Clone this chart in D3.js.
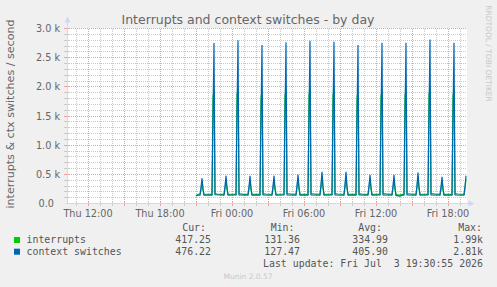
<!DOCTYPE html>
<html>
<head>
<meta charset="utf-8">
<script src="https://cdn.jsdelivr.net/npm/d3@7"></script>
<style>
body { margin: 0; background: #f0f0f0; }
svg { display: block; }
text { font-family: "DejaVu Sans", sans-serif; fill: #666; }
.mono { font-family: "DejaVu Sans Mono", monospace; fill: #555; white-space: pre; }
</style>
</head>
<body>
<div id="chart"></div>
<script>
// "D HH:MM" -> day of July 2026
const parseT = s => d3.timeParse('%Y-%m-%d %H:%M')('2026-07-0' + s)

// context switches per second
const contextSwitches = [
  ['2 21:00', 130], ['2 21:10', 146], ['2 21:20', 144], ['2 21:25', 270], ['2 21:30', 434], ['2 21:35', 250], ['2 21:40', 142],
  ['2 22:20', 145], ['2 22:25', 1500], ['2 22:30', 2750], ['2 22:35', 150],
  ['2 23:20', 143], ['2 23:25', 290], ['2 23:30', 477], ['2 23:35', 270], ['2 23:40', 144],
  ['3 00:20', 146], ['3 00:25', 1550], ['3 00:30', 2800], ['3 00:35', 148],
  ['3 01:20', 144], ['3 01:25', 285], ['3 01:30', 474], ['3 01:35', 260], ['3 01:40', 143],
  ['3 02:20', 145], ['3 02:25', 1480], ['3 02:30', 2716], ['3 02:35', 147],
  ['3 03:20', 144], ['3 03:25', 290], ['3 03:30', 477], ['3 03:35', 265], ['3 03:40', 145],
  ['3 04:20', 146], ['3 04:25', 1520], ['3 04:30', 2765], ['3 04:35', 146],
  ['3 05:20', 143], ['3 05:25', 300], ['3 05:30', 497], ['3 05:35', 270], ['3 05:40', 144],
  ['3 06:20', 145], ['3 06:25', 1540], ['3 06:30', 2790], ['3 06:35', 148],
  ['3 07:20', 144], ['3 07:25', 320], ['3 07:30', 543], ['3 07:35', 290], ['3 07:40', 145],
  ['3 08:20', 146], ['3 08:25', 1530], ['3 08:30', 2772], ['3 08:35', 147],
  ['3 09:20', 143], ['3 09:25', 320], ['3 09:30', 543], ['3 09:35', 285], ['3 09:40', 144],
  ['3 10:20', 145], ['3 10:25', 1480], ['3 10:30', 2716], ['3 10:35', 146],
  ['3 11:20', 144], ['3 11:25', 300], ['3 11:30', 491], ['3 11:35', 270], ['3 11:40', 145],
  ['3 12:20', 146], ['3 12:25', 1510], ['3 12:30', 2755], ['3 12:35', 147],
  ['3 13:20', 143], ['3 13:25', 295], ['3 13:30', 491], ['3 13:35', 265], ['3 13:40', 138], ['3 14:00', 128], ['3 14:10', 144],
  ['3 14:20', 145], ['3 14:25', 1510], ['3 14:30', 2755], ['3 14:35', 148],
  ['3 15:20', 144], ['3 15:25', 310], ['3 15:30', 531], ['3 15:35', 280], ['3 15:40', 145],
  ['3 16:20', 146], ['3 16:25', 1560], ['3 16:30', 2810], ['3 16:35', 147],
  ['3 17:20', 143], ['3 17:25', 280], ['3 17:30', 457], ['3 17:35', 255], ['3 17:40', 144],
  ['3 18:20', 145], ['3 18:25', 1510], ['3 18:30', 2755], ['3 18:35', 146],
  ['3 19:20', 144], ['3 19:25', 290], ['3 19:30', 476]
]

// interrupts per second
const interrupts = [
  ['2 21:00', 132], ['2 21:10', 156], ['2 21:20', 158], ['2 21:25', 240], ['2 21:30', 380], ['2 21:35', 230], ['2 21:40', 160],
  ['2 22:20', 158], ['2 22:25', 1820], ['2 22:30', 1945], ['2 22:35', 175], ['2 22:45', 160],
  ['2 23:20', 157], ['2 23:25', 260], ['2 23:30', 420], ['2 23:35', 240], ['2 23:40', 159],
  ['3 00:20', 158], ['3 00:25', 1860], ['3 00:30', 1990], ['3 00:35', 172], ['3 00:45', 166], ['3 00:55', 158],
  ['3 01:20', 156], ['3 01:25', 255], ['3 01:30', 415], ['3 01:35', 235], ['3 01:40', 158],
  ['3 02:20', 157], ['3 02:25', 1800], ['3 02:30', 1928], ['3 02:35', 168], ['3 02:50', 163],
  ['3 03:20', 158], ['3 03:25', 260], ['3 03:30', 420], ['3 03:35', 240], ['3 03:40', 160],
  ['3 04:20', 159], ['3 04:25', 1840], ['3 04:30', 1969], ['3 04:35', 170], ['3 04:50', 164],
  ['3 05:20', 157], ['3 05:25', 270], ['3 05:30', 440], ['3 05:35', 245], ['3 05:40', 158],
  ['3 06:20', 158], ['3 06:25', 1850], ['3 06:30', 1980], ['3 06:35', 171], ['3 06:50', 165],
  ['3 07:20', 157], ['3 07:25', 290], ['3 07:30', 480], ['3 07:35', 260], ['3 07:40', 159],
  ['3 08:20', 158], ['3 08:25', 1850], ['3 08:30', 1975], ['3 08:35', 170], ['3 08:50', 163],
  ['3 09:20', 156], ['3 09:25', 290], ['3 09:30', 480], ['3 09:35', 255], ['3 09:40', 158],
  ['3 10:20', 158], ['3 10:25', 1800], ['3 10:30', 1928], ['3 10:35', 168], ['3 10:50', 162],
  ['3 11:20', 157], ['3 11:25', 270], ['3 11:30', 435], ['3 11:35', 245], ['3 11:40', 158],
  ['3 12:20', 158], ['3 12:25', 1830], ['3 12:30', 1957], ['3 12:35', 172], ['3 12:50', 164],
  ['3 13:20', 156], ['3 13:25', 265], ['3 13:30', 435], ['3 13:35', 240], ['3 13:40', 152], ['3 14:00', 145], ['3 14:10', 158],
  ['3 14:20', 159], ['3 14:25', 1840], ['3 14:30', 1969], ['3 14:35', 170], ['3 14:50', 164],
  ['3 15:20', 157], ['3 15:25', 280], ['3 15:30', 470], ['3 15:35', 250], ['3 15:40', 159],
  ['3 16:20', 158], ['3 16:25', 1860], ['3 16:30', 1985], ['3 16:35', 172], ['3 16:50', 165],
  ['3 17:20', 157], ['3 17:25', 245], ['3 17:30', 400], ['3 17:35', 230], ['3 17:40', 158],
  ['3 18:20', 158], ['3 18:25', 1840], ['3 18:30', 1965], ['3 18:35', 170], ['3 18:50', 163],
  ['3 19:20', 157], ['3 19:25', 260], ['3 19:30', 417]
]

const yTicks = [0, 500, 1000, 1500, 2000, 2500, 3000]
const yTickLabels = ['0.0', '0.5 k', '1.0 k', '1.5 k', '2.0 k', '2.5 k', '3.0 k']
const xLabelTimes = ['2 12:00', '2 18:00', '3 00:00', '3 06:00', '3 12:00', '3 18:00']

const seriesNames = ['interrupts', 'context switches']
const seriesColors = ['#00cc00', '#0066b3']
const curValues = ['417.25', '476.22']
const minValues = ['131.36', '127.47']
const avgValues = ['334.99', '405.90']
const maxValues = ['1.99k', '2.81k']

const width = 497
const height = 287

const x = d3.scaleTime()
  .domain([parseT('2 10:15'), parseT('3 19:35')])
  .range([67, 467])

const y = d3.scaleLinear()
  .domain([0, 3000])
  .range([203.5, 28.5])

const svg = d3.select('#chart')
  .append('svg')
  .attr('width', width)
  .attr('height', height)

svg.append('rect')
  .attr('width', width)
  .attr('height', height)
  .style('fill', '#f0f0f0')

// canvas
svg.append('rect')
  .attr('x', x.range()[0])
  .attr('y', y.range()[1])
  .attr('width', x.range()[1] - x.range()[0])
  .attr('height', y.range()[0] - y.range()[1])
  .style('fill', '#ffffff')

const grid = svg.append('g').attr('shape-rendering', 'crispEdges')

const [t0, t1] = x.domain()
const hours = d3.timeHour.every(1).range(t0, t1)
const minorX = hours.filter(d => d.getHours() % 3 !== 0)
const majorX = hours.filter(d => d.getHours() % 3 === 0)
const px = d => Math.round(x(d)) + 0.5
const py = v => Math.floor(y(v)) + 0.5

const minorY = d3.range(100, 3001, 100).filter(v => v % 500 !== 0)
const majorY = yTicks.filter(v => v > 0)

grid.selectAll('.minor-x')
  .data(minorX)
  .enter()
  .append('line')
  .attr('x1', px).attr('x2', px)
  .attr('y1', y.range()[1]).attr('y2', y.range()[0])
  .style('stroke', '#c9c9c9')
  .style('stroke-dasharray', '1,1')

grid.selectAll('.minor-y')
  .data(minorY)
  .enter()
  .append('line')
  .attr('x1', x.range()[0]).attr('x2', x.range()[1])
  .attr('y1', py).attr('y2', py)
  .style('stroke', '#c9c9c9')
  .style('stroke-dasharray', '1,1')

grid.selectAll('.major-x')
  .data(majorX)
  .enter()
  .append('line')
  .attr('x1', px).attr('x2', px)
  .attr('y1', y.range()[1]).attr('y2', y.range()[0])
  .style('stroke', '#eaa0a0')
  .style('stroke-dasharray', '1,1')

grid.selectAll('.major-y')
  .data(majorY)
  .enter()
  .append('line')
  .attr('x1', x.range()[0]).attr('x2', x.range()[1])
  .attr('y1', py).attr('y2', py)
  .style('stroke', '#eaa0a0')
  .style('stroke-dasharray', '1,1')

// little ticks across the axes
grid.selectAll('.tick-x')
  .data(hours)
  .enter()
  .append('line')
  .attr('x1', px).attr('x2', px)
  .attr('y1', 201).attr('y2', 206)
  .style('stroke', d => d.getHours() % 3 === 0 ? '#eaa0a0' : '#c9c9c9')

grid.selectAll('.tick-y')
  .data(d3.range(100, 3001, 100))
  .enter()
  .append('line')
  .attr('x1', 64).attr('x2', 69)
  .attr('y1', py).attr('y2', py)
  .style('stroke', d => d % 500 === 0 ? '#eaa0a0' : '#c9c9c9')

// data lines
const line = d3.line()
  .x(d => x(parseT(d[0])))
  .y(d => y(d[1]))

svg.append('path')
  .datum(interrupts)
  .attr('d', line)
  .style('fill', 'none')
  .style('stroke', seriesColors[0])
  .style('stroke-width', 1.2)

svg.append('path')
  .datum(contextSwitches)
  .attr('d', line)
  .style('fill', 'none')
  .style('stroke', seriesColors[1])
  .style('stroke-width', 1.2)

// axes with arrows
const axisColor = '#cfd6f8'
svg.append('line')
  .attr('x1', 67.5).attr('x2', 67.5)
  .attr('y1', 204).attr('y2', 22)
  .style('stroke', axisColor)
  .attr('shape-rendering', 'crispEdges')
svg.append('path')
  .attr('d', 'M64.5,22.5 L67.5,16.5 L70.5,22.5 Z')
  .style('fill', axisColor)

svg.append('line')
  .attr('x1', 66).attr('x2', 470)
  .attr('y1', 203.5).attr('y2', 203.5)
  .style('stroke', axisColor)
  .attr('shape-rendering', 'crispEdges')
svg.append('path')
  .attr('d', 'M468.5,200.5 L474.5,203.5 L468.5,206.5 Z')
  .style('fill', axisColor)

// tick labels
svg.selectAll('.ylab')
  .data(yTicks)
  .enter()
  .append('text')
  .attr('x', (d, i) => i === 0 ? 54 : 60)
  .attr('y', d => y(d) + 3.5)
  .attr('text-anchor', 'end')
  .style('font-size', '9.7px')
  .text((d, i) => yTickLabels[i])

svg.selectAll('.xlab')
  .data(xLabelTimes)
  .enter()
  .append('text')
  .attr('x', d => x(parseT(d)))
  .attr('y', 216.5)
  .attr('text-anchor', 'middle')
  .style('font-size', '9.7px')
  .text(d => d3.timeFormat('%a %H:%M')(parseT(d)))

// titles
svg.append('text')
  .attr('x', 248)
  .attr('y', 23.5)
  .attr('text-anchor', 'middle')
  .style('font-size', '12.5px')
  .text('Interrupts and context switches - by day')

svg.append('text')
  .attr('transform', 'translate(14,114) rotate(-90)')
  .attr('text-anchor', 'middle')
  .style('font-size', '11.1px')
  .text('interrupts & ctx switches / second')

svg.append('text')
  .attr('transform', 'translate(485.5,53.5) rotate(90)')
  .attr('text-anchor', 'middle')
  .style('font-size', '7.5px')
  .style('fill', '#c8c8c8')
  .text('RRDTOOL / TOBI OETIKER')

svg.append('text')
  .attr('x', 248)
  .attr('y', 279)
  .attr('text-anchor', 'middle')
  .style('font-size', '7.5px')
  .style('fill', '#c8c8c8')
  .text('Munin 2.0.57')

// legend
const legendFont = '9.9px'
const headers = [['Cur:', 206], ['Min:', 294.5], ['Avg:', 382], ['Max:', 482]]
svg.selectAll('.lh')
  .data(headers)
  .enter()
  .append('text')
  .attr('class', 'mono')
  .attr('x', d => d[1])
  .attr('y', 231)
  .attr('text-anchor', 'end')
  .style('font-size', legendFont)
  .text(d => d[0])

const rows = svg.selectAll('.lrow')
  .data(seriesNames)
  .enter()
  .append('g')
  .attr('transform', (d, i) => `translate(0,${243 + i * 11.7})`)

rows.append('rect')
  .attr('x', 14).attr('y', -6)
  .attr('width', 6).attr('height', 6)
  .style('fill', (d, i) => seriesColors[i])

rows.append('text')
  .attr('class', 'mono')
  .attr('x', 26.5)
  .style('font-size', legendFont)
  .text(d => d)

const cols = [[curValues, 211], [minValues, 300], [avgValues, 388], [maxValues, 483]]
cols.forEach(([vals, cx]) => {
  rows.append('text')
    .attr('class', 'mono')
    .attr('x', cx)
    .attr('text-anchor', 'end')
    .style('font-size', legendFont)
    .text((d, i) => vals[i])
})

svg.append('text')
  .attr('class', 'mono')
  .attr('x', 483)
  .attr('y', 266.7)
  .attr('text-anchor', 'end')
  .style('font-size', legendFont)
  .text('Last update: Fri Jul  3 19:30:55 2026')
</script>
</body>
</html>
